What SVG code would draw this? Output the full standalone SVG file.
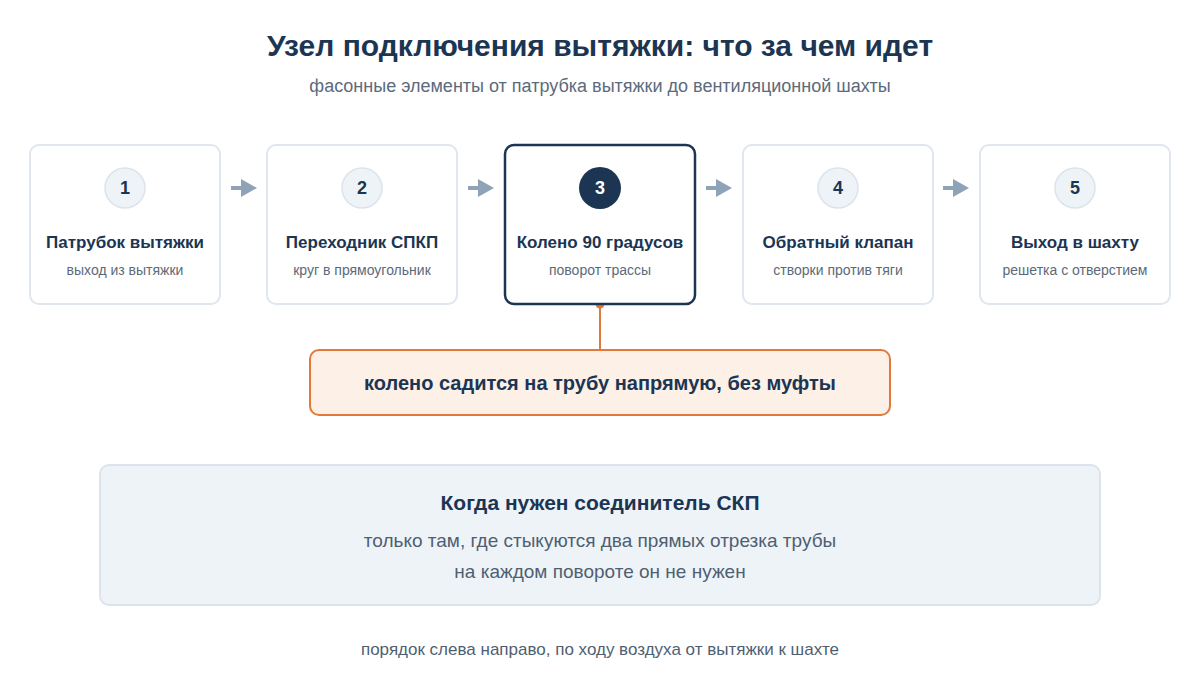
<svg xmlns="http://www.w3.org/2000/svg" width="1200" height="700" viewBox="0 0 1200 700">
<defs>
<style>
text{font-family:"Liberation Sans",Arial,sans-serif;text-anchor:middle}
.card{fill:#fff;stroke:#dfe6ed;stroke-width:2}
.card.hl{stroke:#1b3553;stroke-width:2.5}
.num{fill:#eef3f8;stroke:#dbe4ec;stroke-width:1.5}
.numt{font-size:18px;font-weight:bold;fill:#1b3553}
.t{font-size:17px;font-weight:bold;fill:#1b3553}
.s{font-size:14px;fill:#5b6a7a}
.arr{stroke:#8fa3b8;stroke-width:4}
.ah{fill:#8fa3b8}
</style>
</defs>
<rect width="1200" height="700" fill="#fff"/>
<text x="600" y="56" font-size="30" font-weight="bold" fill="#1b3553">Узел подключения вытяжки: что за чем идет</text>
<text x="600" y="92" font-size="18" fill="#5b6a7d">фасонные элементы от патрубка вытяжки до вентиляционной шахты</text>

<g id="connectors">
<line class="arr" x1="231" y1="188" x2="243" y2="188"/><path class="ah" d="M241,179L257,188L241,197Z"/>
<line class="arr" x1="468" y1="188" x2="480" y2="188"/><path class="ah" d="M478,179L494,188L478,197Z"/>
<line class="arr" x1="706" y1="188" x2="718" y2="188"/><path class="ah" d="M716,179L732,188L716,197Z"/>
<line class="arr" x1="943" y1="188" x2="955" y2="188"/><path class="ah" d="M953,179L969,188L953,197Z"/>
<line x1="600" y1="304" x2="600" y2="350" stroke="#e07a3a" stroke-width="2"/>
<circle cx="600" cy="304" r="4.5" fill="#e07a3a"/>
</g>

<g id="node1">
<rect class="card" x="30" y="145" width="190" height="159" rx="9"/>
<circle class="num" cx="125" cy="188" r="20"/>
<text class="numt" x="125" y="194">1</text>
<text class="t" x="125" y="248">Патрубок вытяжки</text>
<text class="s" x="125" y="275">выход из вытяжки</text>
</g>
<g id="node2">
<rect class="card" x="267" y="145" width="190" height="159" rx="9"/>
<circle class="num" cx="362" cy="188" r="20"/>
<text class="numt" x="362" y="194">2</text>
<text class="t" x="362" y="248">Переходник СПКП</text>
<text class="s" x="362" y="275">круг в прямоугольник</text>
</g>
<g id="node3">
<rect class="card hl" x="505" y="145" width="190" height="159" rx="9"/>
<circle cx="600" cy="188" r="21" fill="#1b3553"/>
<text class="numt" x="600" y="194" style="fill:#fff">3</text>
<text class="t" x="600" y="248">Колено 90 градусов</text>
<text class="s" x="600" y="275">поворот трассы</text>
</g>
<g id="node4">
<rect class="card" x="743" y="145" width="190" height="159" rx="9"/>
<circle class="num" cx="838" cy="188" r="20"/>
<text class="numt" x="838" y="194">4</text>
<text class="t" x="838" y="248">Обратный клапан</text>
<text class="s" x="838" y="275">створки против тяги</text>
</g>
<g id="node5">
<rect class="card" x="980" y="145" width="190" height="159" rx="9"/>
<circle class="num" cx="1075" cy="188" r="20"/>
<text class="numt" x="1075" y="194">5</text>
<text class="t" x="1075" y="248">Выход в шахту</text>
<text class="s" x="1075" y="275">решетка с отверстием</text>
</g>

<g id="callout">
<rect x="310" y="350" width="580" height="65" rx="9" fill="#fdf0e6" stroke="#e07a3a" stroke-width="2"/>
<text x="600" y="390" font-size="20" font-weight="bold" fill="#1b3553">колено садится на трубу напрямую, без муфты</text>
</g>

<g id="note">
<rect x="100" y="465" width="1000" height="140" rx="9" fill="#eef3f8" stroke="#dbe4ec" stroke-width="2"/>
<text x="600" y="510" font-size="21" font-weight="bold" fill="#1b3553">Когда нужен соединитель СКП</text>
<text x="600" y="547" font-size="19" fill="#4f5f72">только там, где стыкуются два прямых отрезка трубы</text>
<text x="600" y="578" font-size="19" fill="#4f5f72">на каждом повороте он не нужен</text>
</g>

<text x="600" y="655" font-size="17" fill="#4f5f72">порядок слева направо, по ходу воздуха от вытяжки к шахте</text>
</svg>
